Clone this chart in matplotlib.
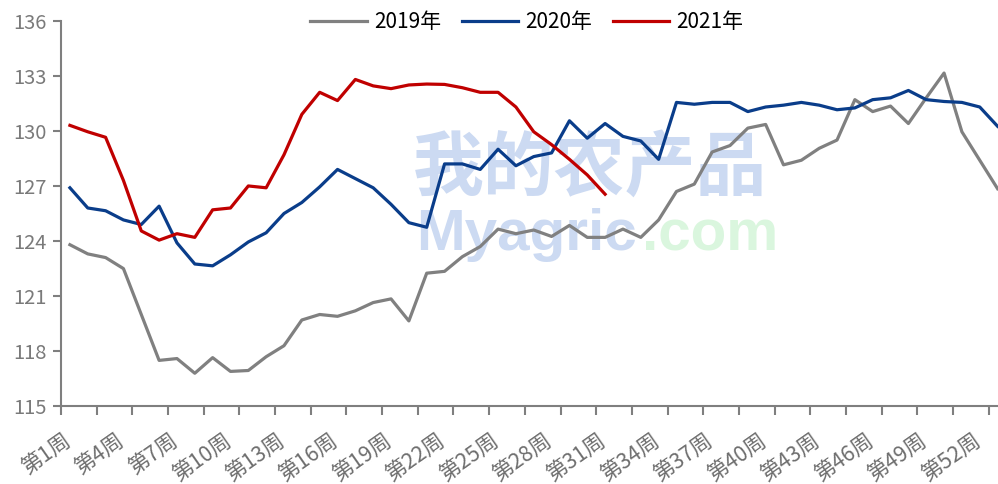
import matplotlib
matplotlib.use("Agg")
import matplotlib.pyplot as plt
from matplotlib.transforms import ScaledTranslation

plt.rcParams['font.family'] = ['Noto Sans CJK SC', 'DejaVu Sans']

# weekly values
weeks = list(range(1, 54))
week_labels = [f"第{w}周" for w in weeks]

y2019 = [123.8, 123.3, 123.1, 122.5, 120.0, 117.5, 117.6, 116.8, 117.65, 116.9,
         116.95, 117.7, 118.3, 119.7, 120.0, 119.9, 120.2, 120.65, 120.85, 119.65,
         122.25, 122.35, 123.15, 123.7, 124.65, 124.4, 124.6, 124.25, 124.85, 124.2,
         124.2, 124.65, 124.2, 125.15, 126.7, 127.1, 128.85, 129.2, 130.15, 130.35,
         128.15, 128.4, 129.05, 129.5, 131.7, 131.05, 131.35, 130.4, 131.8, 133.15,
         129.95, 128.4, 126.85]
y2020 = [126.9, 125.8, 125.65, 125.15, 124.9, 125.9, 123.9, 122.75, 122.65, 123.25,
         123.95, 124.45, 125.5, 126.1, 126.95, 127.9, 127.4, 126.9, 126.0, 125.0,
         124.75, 128.2, 128.2, 127.9, 129.0, 128.1, 128.6, 128.8, 130.55, 129.6,
         130.4, 129.7, 129.45, 128.45, 131.55, 131.45, 131.55, 131.55, 131.05, 131.3,
         131.4, 131.55, 131.4, 131.15, 131.25, 131.7, 131.8, 132.2, 131.7, 131.6,
         131.55, 131.3, 130.25]
y2021 = [130.3, 129.95, 129.65, 127.3, 124.55, 124.05, 124.4, 124.2, 125.7, 125.8,
         127.0, 126.9, 128.7, 130.9, 132.1, 131.65, 132.8, 132.45, 132.3, 132.5,
         132.55, 132.53, 132.35, 132.1, 132.1, 131.3, 129.95, 129.25, 128.45, 127.6,
         126.55]

series = [("2019年", y2019, "#808080"),
          ("2020年", y2020, "#0a3d8a"),
          ("2021年", y2021, "#c00000")]

fig = plt.figure(figsize=(9.98, 4.84), dpi=100)
W, H = 998, 484
ax = fig.add_axes([61 / W, 1 - 406.3 / H, (1006.5 - 61) / W, (406.3 - 20.7) / H])

# watermark
ax.text(0.372, 0.615, "我的农产品", transform=ax.transAxes, fontsize=51,
        color="#ccdaf2", ha="left", va="center", fontweight="bold", zorder=0)
ax.text(0.376, 0.405, "Myagric", transform=ax.transAxes, fontsize=42,
        family="Liberation Sans", color="#ccdaf2", ha="left", va="baseline",
        fontweight="bold", zorder=0)
ax.text(0.614, 0.405, ".com", transform=ax.transAxes, fontsize=42,
        family="Liberation Sans", color="#daf6de", ha="left", va="baseline",
        fontweight="bold", zorder=0)

for name, vals, col in series:
    ax.plot(weeks[:len(vals)], vals, color=col, lw=2.3, label=name, zorder=3)

ax.set_xlim(0.5, 53.5)
ax.set_ylim(115, 136)
ax.set_yticks(range(115, 137, 3))

for s in ["top", "right"]:
    ax.spines[s].set_visible(False)
for s in ["left", "bottom"]:
    ax.spines[s].set_color("#7f7f7f")
    ax.spines[s].set_linewidth(1.5)

ax.tick_params(axis="y", direction="out", length=6, width=1.5, color="#7f7f7f",
               labelsize=14.5, labelcolor="#7a7a7a", pad=4)
for lab in ax.get_yticklabels():
    lab.set_fontweight("light")

# labels every 3 weeks, tick marks every 2 categories
ax.set_xticks(weeks[::3])
ax.set_xticklabels(week_labels[::3])
ax.set_xticks([w - 0.5 for w in weeks[::2]], minor=True)
ax.tick_params(axis="x", which="major", length=0, pad=23, labelsize=15.5,
               labelcolor="#6e6e6e")
ax.tick_params(axis="x", which="minor", direction="out", length=6.5, width=1.5,
               color="#7f7f7f")
shift = ScaledTranslation(-1 / 100, 0, fig.dpi_scale_trans)
for lab in ax.get_xticklabels():
    lab.set_rotation(35)
    lab.set_rotation_mode("anchor")
    lab.set_ha("right")
    lab.set_va("center")
    lab.set_fontweight("light")
    lab.set_transform(lab.get_transform() + shift)

fig.legend(loc="center", bbox_to_anchor=(527 / W, 1 - 22 / H), ncol=3,
           frameon=False, fontsize=15, handlelength=2.7, handletextpad=0.35,
           columnspacing=1.0)

fig.savefig("out.png", dpi=100)
